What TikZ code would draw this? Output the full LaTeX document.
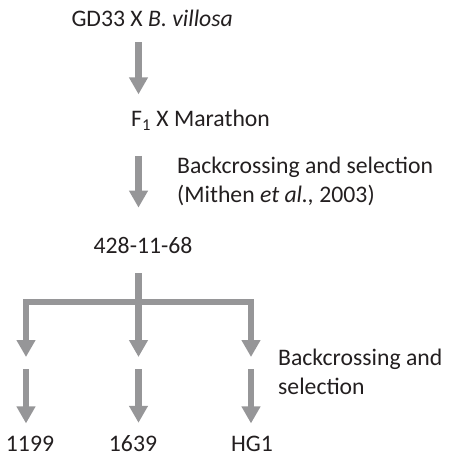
\documentclass[tikz,border=0pt]{standalone}
\usepackage{fontspec}
\setmainfont{Carlito}
\usetikzlibrary{arrows.meta}
\definecolor{arrowgray}{RGB}{150,150,152}
\definecolor{inkgray}{RGB}{35,31,32}
\tikzset{
 lbl/.style={inner sep=0pt,text=inkgray,font=\fontsize{23.7}{28.5}\selectfont},
 flow/.style={draw=arrowgray,line width=6.5pt,line join=miter,
   -{Triangle[width=18pt,length=17pt]}},
 twoway/.style={flow,{Triangle[width=18pt,length=17pt]}-{Triangle[width=18pt,length=17pt]}},
}
\begin{document}
\begin{tikzpicture}[x=1pt,y=-1pt]
 \useasboundingbox (0,0) rectangle (454,457);
 \path
 (233,27) node[lbl,anchor=base east] (cross) {GD33 X \textit{B. villosa}} % kreuzung
 (131,127) node[lbl,anchor=base west] (fone) {F\textsubscript{1} X Marathon}
 (177,157) node[lbl,anchor=north west,align=left] (noteA)
   {Backcrossing and selection\\(Mithen \textit{et al.,} 2003)}
 (143,253) node[lbl,anchor=base] (line) {428-11-68}
 (278,349) node[lbl,anchor=north west,align=left] (noteB)
   {Backcrossing and\\selection}
 (30,451) node[lbl,anchor=base] (l1199) {1199} % linien
 (133,451) node[lbl,anchor=base] (l1639) {1639}
 (252,451) node[lbl,anchor=base] (lhg) {HG1};
 \coordinate (col) at (138.5,0);
 \coordinate (split) at (138.5,302);
 \coordinate (t1) at (26,357);
 \coordinate (t2) at (138.5,357);
 \coordinate (t3) at (251,357);
 \draw[flow,shorten <=15pt,shorten >=16pt] (cross.south -| col) -- (fone.north -| col);
 \draw[flow,shorten <=25pt,shorten >=29pt] (fone.south -| col) -- (line.north -| col);
 \draw[flow,shorten <=20pt] (line.south -| col) -- (t2);
 \draw[twoway] (t1) -- (t1 |- split) -- (t3 |- split) -- (t3);
 \draw[flow,shorten <=12pt,shorten >=12pt] (t1) -- (l1199.north -| t1);
 \draw[flow,shorten <=12pt,shorten >=12pt] (t2) -- (l1639.north -| t2);
 \draw[flow,shorten <=12pt,shorten >=12pt] (t3) -- (lhg.north -| t3);
\end{tikzpicture}
\end{document}
